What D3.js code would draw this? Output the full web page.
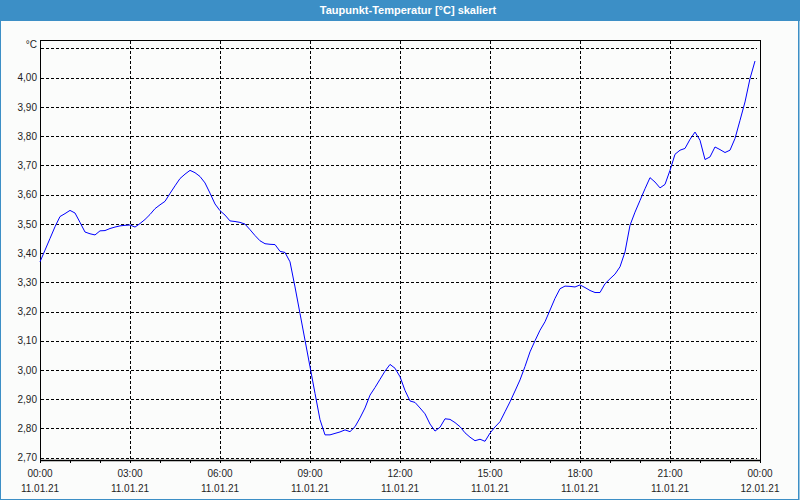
<!DOCTYPE html>
<html><head><meta charset="utf-8">
<script src="https://cdn.jsdelivr.net/npm/d3@7"></script>
<style>
html,body{margin:0;padding:0;background:#fbfcfb;}
svg{display:block;}
</style></head>
<body>
<svg id="c" width="800" height="500"></svg>
<script>
// ---- data ----
const title = "Taupunkt-Temperatur [°C] skaliert";
const unitLabel = "°C";
const startTime = Date.UTC(2021, 0, 11, 0, 0);   // 11.01.21 00:00
const stepMinutes = 10;
const dewPoint = [
  3.370,3.410,3.450,3.490,3.525,3.535,3.546,3.537,3.505,3.472,
  3.466,3.462,3.476,3.477,3.484,3.489,3.493,3.495,3.496,3.489,
  3.501,3.515,3.532,3.552,3.565,3.577,3.604,3.630,3.655,3.670,
  3.683,3.675,3.662,3.640,3.605,3.568,3.545,3.530,3.510,3.508,
  3.505,3.499,3.480,3.460,3.442,3.432,3.430,3.429,3.406,3.402,
  3.370,3.284,3.193,3.102,3.011,2.920,2.830,2.778,2.778,2.783,
  2.788,2.795,2.789,2.806,2.836,2.870,2.914,2.940,2.968,2.996,
  3.019,3.006,2.977,2.930,2.894,2.889,2.870,2.850,2.815,2.791,
  2.804,2.833,2.831,2.820,2.806,2.785,2.770,2.758,2.763,2.756,
  2.784,2.805,2.823,2.857,2.891,2.928,2.966,3.012,3.062,3.100,
  3.136,3.165,3.205,3.245,3.278,3.287,3.286,3.284,3.291,3.282,
  3.272,3.265,3.265,3.295,3.312,3.328,3.353,3.404,3.495,3.540,
  3.580,3.620,3.658,3.643,3.623,3.635,3.683,3.738,3.752,3.758,
  3.789,3.814,3.786,3.720,3.729,3.763,3.754,3.744,3.752,3.792,
  3.854,3.917,3.997,4.057
];
const yTickValues = [2.7,2.8,2.9,3.0,3.1,3.2,3.3,3.4,3.5,3.6,3.7,3.8,3.9,4.0];
const yGridValues = [2.7,2.8,2.9,3.0,3.1,3.2,3.3,3.4,3.5,3.6,3.7,3.8,3.9,4.0,4.1];
const yDomain = [2.692, 4.129];
const xDomain = [Date.UTC(2021,0,11,0,0), Date.UTC(2021,0,12,0,0)];

// ---- layout ----
const svg = d3.select("#c");
const W = 800, H = 500;
const L = 40, R = 760, T = 40, B = 460;
const blue = "#3c8fc6";
const font = "'Liberation Sans', Arial, sans-serif";

const points = dewPoint.map((v,i)=>({t:new Date(startTime + i*stepMinutes*60000), v}));

const x = d3.scaleUtc().domain(xDomain.map(d=>new Date(d))).range([L, R]);
const y = d3.scaleLinear().domain(yDomain).range([B, T]);

// background & frame
svg.append("rect").attr("x",0).attr("y",0).attr("width",W).attr("height",H).attr("fill","#fbfcfb");
svg.append("rect").attr("x",0).attr("y",0).attr("width",W).attr("height",21).attr("fill",blue);
svg.append("rect").attr("x",0.5).attr("y",0.5).attr("width",W-1.5).attr("height",H-1).attr("fill","none").attr("stroke",blue).attr("stroke-width",1);
svg.append("line").attr("x1",W-1.5).attr("x2",W-1.5).attr("y1",0).attr("y2",H).attr("stroke",blue).attr("stroke-width",1);
svg.append("text").attr("x",408).attr("y",14).attr("text-anchor","middle")
  .attr("fill","#ffffff").attr("font-family",font).attr("font-weight","bold").attr("font-size","11px")
  .text(title);

// grid
const g = svg.append("g").attr("shape-rendering","crispEdges");
g.selectAll("line.hg").data(yGridValues).join("line").attr("class","hg")
  .attr("x1",L+1).attr("x2",R-3)
  .attr("y1",d=>Math.round(y(d))+0.5).attr("y2",d=>Math.round(y(d))+0.5)
  .attr("stroke","#000").attr("stroke-width",1).attr("stroke-dasharray","3,2");
const majorTicks = d3.utcHour.every(3).range(new Date(xDomain[0]), new Date(xDomain[1]+1));
g.selectAll("line.vg").data(majorTicks.slice(1,-1)).join("line").attr("class","vg")
  .attr("x1",d=>Math.round(x(d))+0.5).attr("x2",d=>Math.round(x(d))+0.5)
  .attr("y1",T+1).attr("y2",B)
  .attr("stroke","#000").attr("stroke-width",1).attr("stroke-dasharray","3,2");

// plot frame
g.append("line").attr("x1",L).attr("x2",R+1).attr("y1",T+0.5).attr("y2",T+0.5).attr("stroke","#000");
g.append("line").attr("x1",R+0.5).attr("x2",R+0.5).attr("y1",T).attr("y2",B).attr("stroke","#000");

// x axis
const xAxis = d3.axisBottom(x).ticks(d3.utcHour.every(1)).tickSize(3).tickFormat("");
const xa = svg.append("g").attr("transform",`translate(0,${B})`).call(xAxis);
xa.select(".domain").attr("d",`M${L},0.5H${R+1}`).attr("stroke","#000").attr("stroke-width",1.5);
xa.selectAll(".tick line").attr("stroke","#000").attr("shape-rendering","crispEdges");

const fmtT = d3.utcFormat("%H:%M"), fmtD = d3.utcFormat("%d.%m.%y");
const lab = svg.append("g").attr("font-family",font).attr("font-size","10px").attr("fill","#1e1e1e").attr("text-anchor","middle");
lab.selectAll("text.t").data(majorTicks).join("text").attr("class","t")
  .attr("x",d=>x(d)).attr("y",477).text(d=>fmtT(d));
lab.selectAll("text.d").data(majorTicks).join("text").attr("class","d")
  .attr("x",d=>x(d)).attr("y",492).text(d=>fmtD(d));

// y axis
const yAxis = d3.axisLeft(y).tickValues(yTickValues).tickSize(0).tickPadding(4)
  .tickFormat(d=>d3.format(".2f")(d).replace(".",","));
const ya = svg.append("g").attr("transform",`translate(${L},0)`).call(yAxis);
ya.select(".domain").attr("d",`M0.5,${T}V${B+1}`).attr("stroke","#000").attr("stroke-width",1);
ya.selectAll(".tick text").attr("font-family",font).attr("font-size","10px").attr("fill","#1e1e1e").attr("x",-3);
svg.append("text").attr("x",37).attr("y",48).attr("text-anchor","end")
  .attr("font-family",font).attr("font-size","10px").attr("fill","#1e1e1e").text(unitLabel);

// line
const line = d3.line().x(d=>x(d.t)).y(d=>y(d.v));
svg.append("path").datum(points).attr("d",line).attr("fill","none").attr("stroke","#0000ff").attr("stroke-width",1);
</script>
</body></html>
